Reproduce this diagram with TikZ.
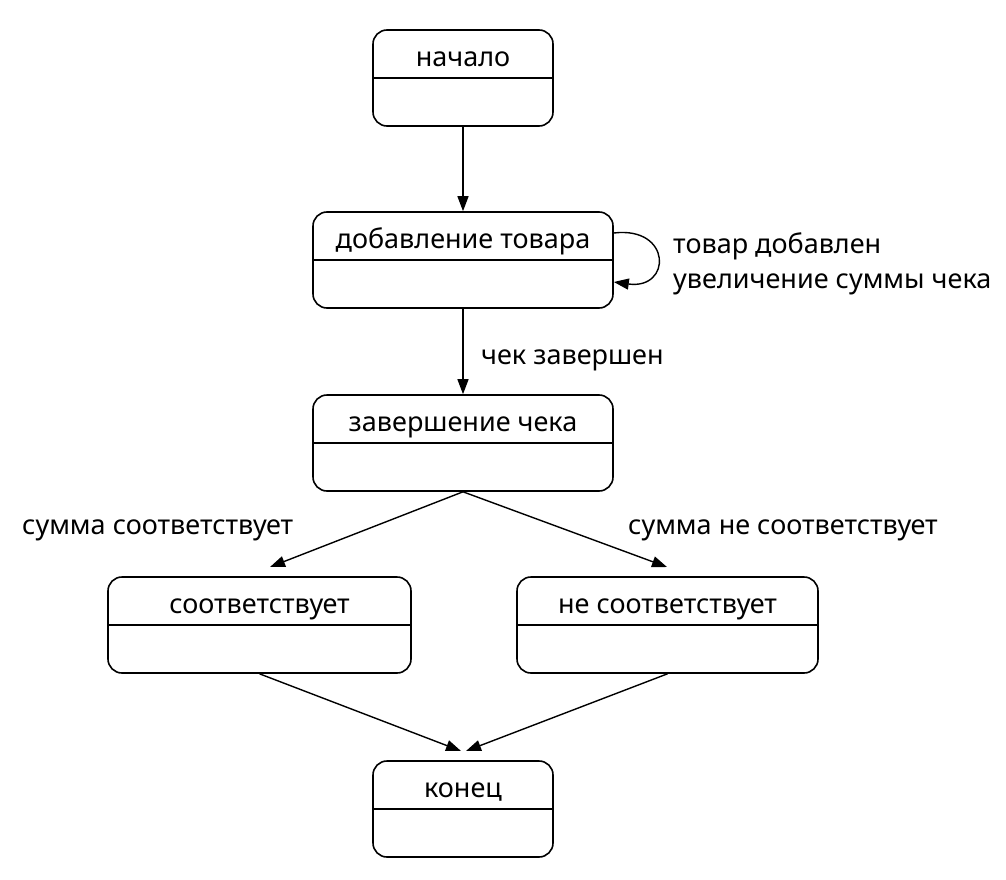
\documentclass[tikz,border=0pt]{standalone}
\usepackage{fontspec}
\setmainfont{Noto Sans}
\usetikzlibrary{arrows.meta,calc}
\begin{document}
\begin{tikzpicture}[x=1pt,y=-1pt,
  statebox/.style={draw, line width=1.6pt, rounded corners=14pt, inner sep=0pt, minimum height=96pt},
  txt/.style={font=\fontsize{27}{36}\selectfont, inner sep=0pt},
  arr/.style={line width=1.4pt, -{Triangle[length=15pt,width=11pt]}}
]
\useasboundingbox (0,0) rectangle (1006,880);
\node[statebox, minimum width=180pt] (start) at (463,78) {};
\node[statebox, minimum width=300pt] (add) at (463,260) {};
\node[statebox, minimum width=300pt] (fin) at (463,443) {};
\node[statebox, minimum width=303pt] (ok) at (259.5,625) {};
\node[statebox, minimum width=301pt] (nok) at (667.5,625) {};
\node[statebox, minimum width=180pt] (end) at (463,809) {};
\foreach \b in {start,add,fin,ok,nok,end}{
  \draw[line width=1.6pt] ($(\b.north west)!0.5!(\b.south west)$) -- ($(\b.north east)!0.5!(\b.south east)$);
}
\node[txt, anchor=base] (tstart) at ([yshift=-37pt]start.north) {начало};
\node[txt, anchor=base] (tadd) at ([yshift=-37pt]add.north) {добавление товара};
\node[txt, anchor=base] (tfin) at ([yshift=-37pt]fin.north) {завершение чека};
\node[txt, anchor=base] (tok) at ([yshift=-37pt]ok.north) {соответствует};
\node[txt, anchor=base] (tnok) at ([yshift=-37pt]nok.north) {не соответствует};
\node[txt, anchor=base] (tend) at ([yshift=-37pt]end.north) {конец};
\coordinate (okin) at (270,567);
\coordinate (nokin) at (667,567);
\coordinate (endinL) at (461,751);
\coordinate (endinR) at (466,751);
\draw[arr] (start.south) -- (add.north);
\draw[arr] (add.south) -- (fin.north);
\draw[arr] (fin.south) -- (okin);
\draw[arr] (fin.south) -- (nokin);
\draw[arr] (ok.south) -- (endinL);
\draw[arr] (nok.south) -- (endinR);
\draw[arr] ([yshift=27pt]add.east) .. controls (672,226) and (672,290) .. ([yshift=-22pt]add.east);
\node[txt, anchor=base west] (lchk) at (481,364) {чек завершен};
\node[txt, anchor=base west] (lloop1) at (673,253) {товар добавлен};
\node[txt, anchor=base west] (lloop2) at (673,288) {увеличение суммы чека};
\node[txt, anchor=base west] (lok) at (22,534) {сумма соответствует};
\node[txt, anchor=base west] (lnok) at (628,534) {сумма не соответствует};
\end{tikzpicture}
\end{document}
